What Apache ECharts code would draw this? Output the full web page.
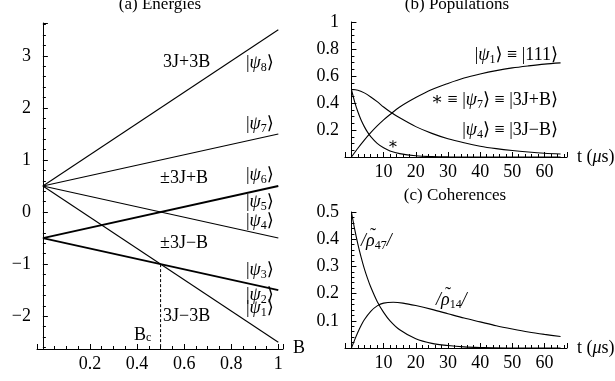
<!DOCTYPE html>
<html><head><meta charset="utf-8">
<script src="https://cdn.jsdelivr.net/npm/echarts@6/dist/echarts.min.js"></script>
<style>html,body{margin:0;padding:0;background:#fff}#c{width:615px;height:381px}</style>
</head><body><div id="c"></div>
<script>
// ---- (a) Energies ----
const fieldB = [0, 1];
const energy8 = [0.5, 3.5];
const energy7 = [0.5, 1.5];
const energy65 = [-0.5, 0.5];
const energy4 = [0.5, -0.5];
const energy32 = [-0.5, -1.5];
const energy1 = [0.5, -2.5];
const bcX = [0.5, 0.5];
const bcY = [-1, -2.63];
const ticksAx = [0.2, 0.4, 0.6, 0.8, 1];
const ticksAy = [-2, -1, 0, 1, 2, 3];
// ---- (b) Populations ----
const tPop = [0, 2, 4, 6, 8, 10, 12, 15, 20, 25, 30, 35, 40, 45, 50, 55, 60, 65];
const pop1 = [0, 0.065, 0.125, 0.18, 0.23, 0.275, 0.315, 0.37, 0.44, 0.5, 0.545, 0.585, 0.615, 0.64, 0.66, 0.675, 0.688, 0.697];
const pop4 = [0.5, 0.495, 0.475, 0.445, 0.41, 0.37, 0.335, 0.29, 0.225, 0.175, 0.135, 0.105, 0.08, 0.062, 0.048, 0.037, 0.028, 0.022];
const tPop7 = [0, 1, 2, 3, 4, 5, 6, 8, 10, 12, 15, 20, 25, 30, 40, 65];
const pop7 = [0.5, 0.409, 0.335, 0.274, 0.225, 0.184, 0.151, 0.101, 0.068, 0.045, 0.025, 0.009, 0.003, 0.001, 0, 0];
const ticksT = [10, 20, 30, 40, 50, 60];
const ticksBy = [0.2, 0.4, 0.6, 0.8, 1];
// ---- (c) Coherences ----
const tCoh47 = [0, 1, 2, 3, 4, 5, 6, 8, 10, 12, 15, 20, 25, 30, 35, 40, 50, 65];
const rho47 = [0.5, 0.437, 0.382, 0.334, 0.292, 0.256, 0.224, 0.171, 0.131, 0.1, 0.067, 0.034, 0.017, 0.009, 0.004, 0.002, 0, 0];
const tCoh14 = [0, 1, 2, 3, 4, 6, 8, 10, 13, 16, 20, 25, 30, 35, 40, 45, 50, 55, 60, 65];
const rho14 = [0, 0.03, 0.058, 0.083, 0.104, 0.135, 0.155, 0.165, 0.168, 0.165, 0.156, 0.142, 0.126, 0.11, 0.096, 0.082, 0.07, 0.059, 0.05, 0.042];
const ticksCy = [0.1, 0.2, 0.3, 0.4, 0.5];

const FONT = '"Liberation Serif","DejaVu Serif",serif';
const zip = (xs, ys) => xs.map((x, i) => [x, ys[i]]);
const chart = echarts.init(document.getElementById('c'));

const near = (v, list) => list.some(t => Math.abs(t - v) < 1e-6);
function axisBase(labels, minus, minorSplit, isX) {
  return {
    axisLine: {show: true, onZero: !isX, lineStyle: {color: '#000', width: 1}},
    axisTick: {show: true, inside: true, length: 5, lineStyle: {color: '#000', width: 1}},
    minorTick: {show: true, splitNumber: minorSplit, length: 3, lineStyle: {color: '#000', width: 1}},
    splitLine: {show: false},
    axisLabel: {color: '#000', fontFamily: FONT, fontSize: 18, margin: 6, showMinLabel: true, showMaxLabel: true,
      formatter: v => near(v, labels) ? (minus ? String(Math.round(v)).replace('-', '\u2212') : String(+v.toFixed(2))) : ''}
  };
}
function line(xi, data, w, extra) {
  return Object.assign({type: 'line', xAxisIndex: xi, yAxisIndex: xi, data: data, symbol: 'none',
    lineStyle: {color: '#000', width: w}, silent: true, animation: false}, extra || {});
}

const ketRich = {
  n: {fontFamily: FONT, fontSize: 18, lineHeight: 22, fill: '#000'},
  i: {fontFamily: FONT, fontSize: 18, fontStyle: 'italic', lineHeight: 22, fill: '#000'},
  s: {fontFamily: FONT, fontSize: 12, lineHeight: 13, verticalAlign: 'bottom', fill: '#000'}
};
function ket(n) { return '{n||}{i|\u03c8}{s|' + n + '}{n|\u27e9}'; }
function txt(x, y, text, align, size) {
  return {type: 'text', x: x, y: y, z: 100, silent: true,
    style: {text: text, x: 0, y: 0, align: align || 'left', verticalAlign: 'middle', font: (size || 18) + 'px ' + FONT, fill: '#000', rich: ketRich}};
}

chart.setOption({
  animation: false,
  grid: [
    {left: 37, top: 23, width: 246, height: 326},
    {left: 345, top: 22, width: 222, height: 135},
    {left: 345, top: 212, width: 222, height: 136}
  ],
  xAxis: [
    Object.assign({type: 'value', gridIndex: 0, min: -0.025, max: 1.02, splitNumber: 5}, axisBase(ticksAx, false, 4, true)),
    Object.assign({type: 'value', gridIndex: 1, min: -2, max: 67, splitNumber: 7}, axisBase(ticksT, false, 5, true)),
    Object.assign({type: 'value', gridIndex: 2, min: -2, max: 67, splitNumber: 7}, axisBase(ticksT, false, 5, true))
  ],
  yAxis: [
    Object.assign({type: 'value', gridIndex: 0, min: -2.63, max: 3.63, splitNumber: 6}, axisBase(ticksAy, true, 5, false)),
    Object.assign({type: 'value', gridIndex: 1, min: 0, max: 1, splitNumber: 5}, axisBase(ticksBy, false, 4, false)),
    Object.assign({type: 'value', gridIndex: 2, min: 0, max: 0.5, splitNumber: 5}, axisBase(ticksCy, false, 5, false))
  ],
  series: [
    line(0, zip(fieldB, energy8), 1.1),
    line(0, zip(fieldB, energy7), 1.1),
    line(0, zip(fieldB, energy65), 1.9),
    line(0, zip(fieldB, energy4), 1.1),
    line(0, zip(fieldB, energy32), 1.9),
    line(0, zip(fieldB, energy1), 1.1),
    line(0, zip(bcX, bcY), 1, {lineStyle: {color: '#000', width: 1, type: [3, 2]}}),
    line(1, zip(tPop, pop1), 1.1, {smooth: 0.3}),
    line(1, zip(tPop, pop4), 1.1, {smooth: 0.3}),
    line(1, zip(tPop7, pop7), 1.1, {smooth: 0.3}),
    line(2, zip(tCoh47, rho47), 1.1, {smooth: 0.3}),
    line(2, zip(tCoh14, rho14), 1.1, {smooth: 0.3})
  ],
  graphic: {elements: [
    txt(160, 5, '(a) Energies', 'center', 17),
    txt(457, 5, '(b) Populations', 'center', 17),
    txt(455, 196, '(c) Coherences', 'center', 17),
    txt(163, 62, '3J+3B'),
    txt(246, 63, ket(8)),
    txt(246, 124, ket(7)),
    txt(160, 178, '\u00b13J+B'),
    txt(246, 175, ket(6)),
    txt(246, 202, ket(5)),
    txt(246, 221, ket(4)),
    txt(160, 243, '\u00b13J\u2212B'),
    txt(246, 270, ket(3)),
    txt(246, 295, ket(2)),
    txt(246, 308, ket(1)),
    txt(163, 316, '3J\u22123B'),
    {type: 'text', x: 134, y: 335, z: 100, silent: true, style: {text: 'B{s|c}', x: 0, y: 0, verticalAlign: 'middle', font: '18px ' + FONT, fill: '#000', rich: ketRich}},
    txt(293, 348, 'B'),
    txt(558, 55, ket(1) + '{n| \u2261 |111\u27e9}', 'right'),
    txt(558, 100, '{n|\u2217 \u2261 }' + ket(7) + '{n| \u2261 |3J+B\u27e9}', 'right'),
    txt(558, 130, ket(4) + '{n| \u2261 |3J\u2212B\u27e9}', 'right'),
    txt(393, 145, '\u2217', 'center', 16),
    txt(577, 157, '{n|t (}{i|\u03bc}{n|s)}'),
    txt(577, 348, '{n|t (}{i|\u03bc}{n|s)}'),
    txt(361, 241, '{i|/\u03c1}{s|47}{i|/}'),
    txt(373, 236, '\u02dc', 'center', 18),
    txt(436, 300, '{i|/\u03c1}{s|14}{i|/}'),
    txt(448, 295, '\u02dc', 'center', 18)
  ]}
});
</script></body></html>
